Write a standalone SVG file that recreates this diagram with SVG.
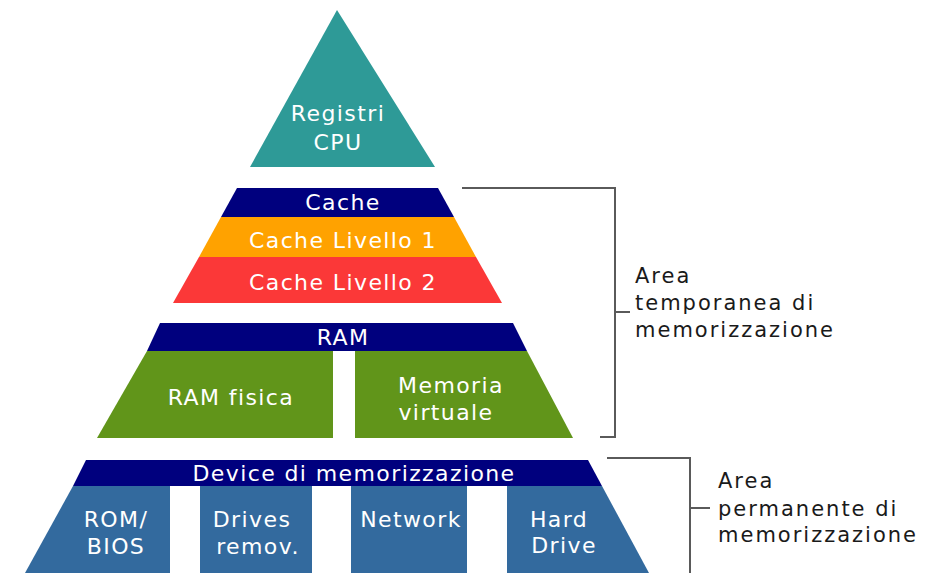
<svg xmlns="http://www.w3.org/2000/svg" width="927" height="573" viewBox="0 0 927 573">
<style>
.lbl{font-family:"DejaVu Sans","Verdana",sans-serif;font-size:22px;letter-spacing:1.4px;fill:#ffffff;text-anchor:middle}
.side{font-family:"DejaVu Sans","Verdana",sans-serif;font-size:21px;letter-spacing:2px;fill:#1a1a1a}
.br{fill:none;stroke:#5a5a5a;stroke-width:2}
.navy{fill:#00007e}
.teal{fill:#2e9a97}
.orange{fill:#ffa200}
.red{fill:#fb3838}
.green{fill:#61951a}
.blue{fill:#336a9e}
</style>
<rect width="927" height="573" fill="#ffffff"/>
<g id="registri">
<polygon class="teal" points="337,10 435,167 250,167"/>
<text class="lbl" x="338" y="121">Registri</text>
<text class="lbl" x="338" y="150">CPU</text>
</g>
<g id="cache">
<polygon class="navy" points="237,188 438,188 454,217 221,217"/>
<text class="lbl" x="343" y="210">Cache</text>
</g>
<g id="cache-l1">
<polygon class="orange" points="221,217 454,217 476,257 199,257"/>
<text class="lbl" x="343" y="248">Cache Livello 1</text>
</g>
<g id="cache-l2">
<polygon class="red" points="199,257 476,257 502,303 173,303"/>
<text class="lbl" x="343" y="290">Cache Livello 2</text>
</g>
<g id="ram">
<polygon class="navy" points="160,323 513,323 527,351 147,351"/>
<text class="lbl" x="343" y="345">RAM</text>
</g>
<g id="ram-fisica">
<polygon class="green" points="147,351 333,351 333,438 97,438"/>
<text class="lbl" x="231" y="405">RAM fisica</text>
</g>
<g id="memoria-virtuale">
<polygon class="green" points="355,351 527,351 573,438 355,438"/>
<text class="lbl" x="451" y="393">Memoria</text>
<text class="lbl" x="446" y="420">virtuale</text>
</g>
<g id="device">
<polygon class="navy" points="86,460 588,460 602,486 73,486"/>
<text class="lbl" x="354" y="481">Device di memorizzazione</text>
</g>
<g id="rom-bios">
<polygon class="blue" points="73,486 170,486 170,573 25,573"/>
<text class="lbl" x="116" y="527">ROM/</text>
<text class="lbl" x="116" y="554">BIOS</text>
</g>
<g id="drives">
<polygon class="blue" points="200,486 312,486 312,573 200,573"/>
<text class="lbl" x="252" y="527">Drives</text>
<text class="lbl" x="258" y="554">remov.</text>
</g>
<g id="network">
<polygon class="blue" points="351,486 467,486 467,573 351,573"/>
<text class="lbl" x="411" y="527">Network</text>
</g>
<g id="hard-drive">
<polygon class="blue" points="507,486 602,486 649,573 507,573"/>
<text class="lbl" x="559" y="527">Hard</text>
<text class="lbl" x="564" y="553">Drive</text>
</g>
<g id="connectors">
<path class="br" d="M462,188 H615 V437 H600 M615,312 H630"/>
<path class="br" d="M607,458 H690 V573 M690,508 H710"/>
</g>
<g id="area-temporanea">
<text class="side" x="635" y="283">Area</text>
<text class="side" x="635" y="310">temporanea di</text>
<text class="side" x="635" y="337">memorizzazione</text>
</g>
<g id="area-permanente">
<text class="side" x="718" y="488">Area</text>
<text class="side" x="718" y="516">permanente di</text>
<text class="side" x="718" y="542">memorizzazione</text>
</g>
</svg>
